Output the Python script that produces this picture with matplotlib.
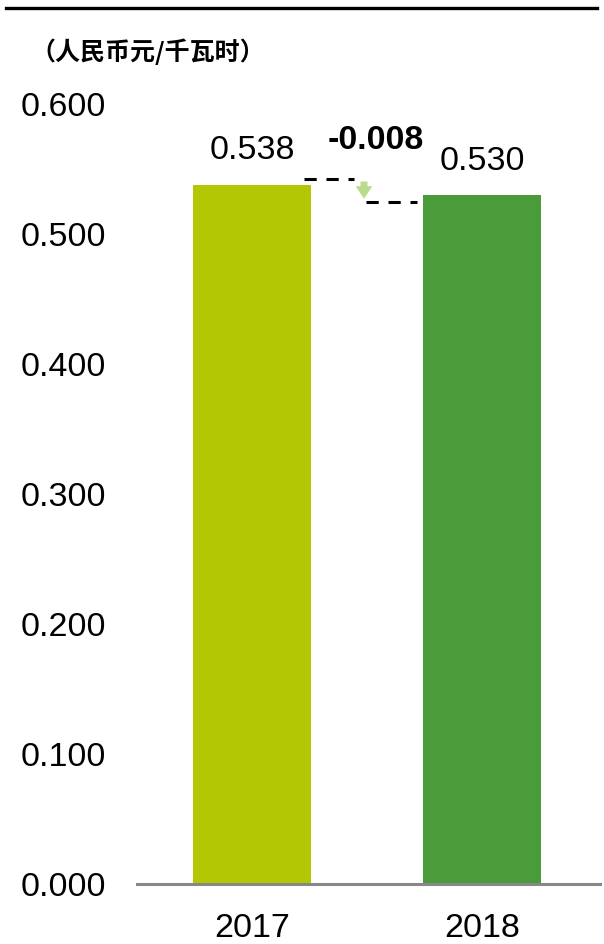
import matplotlib.pyplot as plt
from matplotlib.lines import Line2D

plt.rcParams['font.family'] = ['Liberation Sans', 'DejaVu Sans']

years = ['2017', '2018']
prices = [0.538, 0.530]
bar_colors = ['#b3c705', '#4a9b3a']
delta = prices[1] - prices[0]
yticks = [0.0, 0.1, 0.2, 0.3, 0.4, 0.5, 0.6]
unit = '（人民币元/千瓦时）'

W, H = 604, 944
fig = plt.figure(figsize=(W / 100, H / 100), dpi=100)
ax = fig.add_axes([137 / W, (H - 884) / H, (600 - 137) / W, 780 / H])

x = [0, 1]
ax.bar(x, prices, width=0.513, color=bar_colors, zorder=2)
ax.set_xlim(-0.5, 1.513)
ax.set_ylim(0, 0.6)

for s in ['top', 'right', 'left']:
    ax.spines[s].set_visible(False)
ax.spines['bottom'].set_color('#888888')
ax.spines['bottom'].set_linewidth(2.2)

ax.set_yticks(yticks)
ax.set_yticklabels([f'{v:.3f}' for v in yticks])
ax.set_xticks(x)
ax.set_xticklabels(years)
ax.tick_params(axis='y', length=0, pad=22, labelsize=24.5)
ax.tick_params(axis='x', length=0, pad=21, labelsize=24.5)

# value labels
for xi, v in zip(x, prices):
    ax.text(xi, v + 0.014, f'{v:.3f}', ha='center', va='bottom', fontsize=24.5)

# change markers
y_hi = prices[0] + 0.0045
y_lo = prices[1] - 0.0055
ax.plot([0.226, 0.445], [y_hi, y_hi], ls=(0, (4, 3.2)), color='black', lw=2.2, clip_on=False)
ax.plot([0.495, 0.717], [y_lo, y_lo], ls=(0, (4, 3.2)), color='black', lw=2.2, clip_on=False)
ax.annotate('', xy=(0.487, y_lo + 0.0005), xytext=(0.487, y_hi),
            arrowprops=dict(arrowstyle='simple,head_width=1.2,head_length=0.9,tail_width=0.5',
                            color='#b8dc8c', lw=0), annotation_clip=False)
ax.text(0.54, 0.572, f'{delta:.3f}', ha='center', va='center', fontsize=24.5,
        fontweight='bold')

# unit label and top rule
fig.text(30 / W, 1 - 52 / H, unit, ha='left', va='center', fontsize=18,
         fontweight='bold', family=['Noto Sans CJK SC', 'DejaVu Sans'])
fig.add_artist(Line2D([6 / W, 597 / W], [1 - 7.5 / H, 1 - 7.5 / H], color='black', lw=2.4))

fig.savefig('out.png', dpi=100)
